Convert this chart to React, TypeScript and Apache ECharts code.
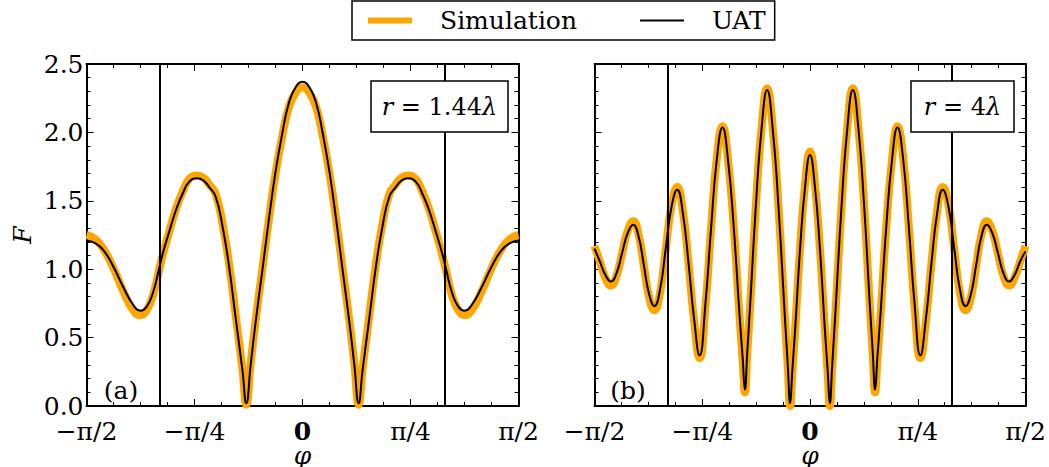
import React, { useEffect, useRef } from "react";
import * as echarts from "echarts";

// phi values are given in units of pi (phi / pi)
const phiA = [-0.5, -0.48, -0.461, -0.438, -0.415, -0.392, -0.375, -0.361, -0.346, -0.333, -0.323, -0.308, -0.292, -0.277, -0.262, -0.244, -0.23, -0.216, -0.201, -0.185, -0.17, -0.155, -0.139, -0.13, -0.12, -0.109, -0.093, -0.078, -0.063, -0.047, -0.032, -0.016, 0, 0.016, 0.032, 0.047, 0.063, 0.078, 0.093, 0.109, 0.12, 0.13, 0.139, 0.155, 0.17, 0.185, 0.201, 0.216, 0.23, 0.244, 0.262, 0.277, 0.292, 0.308, 0.323, 0.333, 0.346, 0.361, 0.375, 0.392, 0.415, 0.438, 0.461, 0.48, 0.5];
const simA = [1.25, 1.22, 1.15, 1.01, 0.84, 0.70, 0.665, 0.70, 0.81, 0.98, 1.11, 1.28, 1.45, 1.57, 1.66, 1.685, 1.67, 1.62, 1.55, 1.33, 1.04, 0.67, 0.27, 0.01, 0.31, 0.61, 1.00, 1.36, 1.69, 1.97, 2.18, 2.29, 2.33, 2.29, 2.18, 1.97, 1.69, 1.36, 1.00, 0.61, 0.31, 0.01, 0.27, 0.67, 1.04, 1.33, 1.55, 1.62, 1.67, 1.685, 1.66, 1.57, 1.45, 1.28, 1.11, 0.98, 0.81, 0.70, 0.665, 0.70, 0.84, 1.01, 1.15, 1.22, 1.25];
const uatA = [1.21, 1.19, 1.14, 1.02, 0.87, 0.74, 0.697, 0.725, 0.83, 0.99, 1.12, 1.28, 1.44, 1.555, 1.64, 1.665, 1.65, 1.60, 1.53, 1.31, 1.02, 0.65, 0.26, 0.02, 0.30, 0.60, 0.99, 1.36, 1.70, 1.99, 2.21, 2.33, 2.37, 2.33, 2.21, 1.99, 1.70, 1.36, 0.99, 0.60, 0.30, 0.02, 0.26, 0.65, 1.02, 1.31, 1.53, 1.60, 1.65, 1.665, 1.64, 1.555, 1.44, 1.28, 1.12, 0.99, 0.83, 0.725, 0.697, 0.74, 0.87, 1.02, 1.14, 1.19, 1.21];

const phiB = [-0.5, -0.488, -0.475, -0.462, -0.449, -0.436, -0.423, -0.41, -0.3978, -0.3855, -0.3733, -0.361, -0.3478, -0.3345, -0.3213, -0.308, -0.295, -0.282, -0.269, -0.256, -0.2428, -0.2295, -0.2163, -0.203, -0.19, -0.177, -0.164, -0.1562, -0.151, -0.1458, -0.1381, -0.1253, -0.1124, -0.0995, -0.0861, -0.0728, -0.0594, -0.0514, -0.046, -0.0414, -0.0345, -0.023, -0.0115, 0, 0.0115, 0.023, 0.0345, 0.0414, 0.046, 0.0514, 0.0594, 0.0728, 0.0861, 0.0995, 0.1124, 0.1253, 0.1381, 0.1458, 0.151, 0.1562, 0.164, 0.177, 0.19, 0.203, 0.2163, 0.2295, 0.2428, 0.256, 0.269, 0.282, 0.295, 0.308, 0.3213, 0.3345, 0.3478, 0.361, 0.3733, 0.3855, 0.3978, 0.41, 0.423, 0.436, 0.449, 0.462, 0.475, 0.488, 0.5];
const simB = [1.17, 1.06, 0.94, 0.88, 0.95, 1.115, 1.28, 1.35, 1.255, 1.025, 0.795, 0.70, 0.83, 1.15, 1.47, 1.60, 1.425, 1.05, 0.625, 0.35, 0.72, 1.30, 1.81, 2.045, 1.79, 1.31, 0.68, 0.33, 0.10, 0.37, 0.77, 1.48, 2.03, 2.32, 2.02, 1.44, 0.70, 0.28, 0.0, 0.22, 0.56, 1.15, 1.62, 1.86, 1.62, 1.15, 0.56, 0.22, 0.0, 0.28, 0.70, 1.44, 2.02, 2.32, 2.03, 1.48, 0.77, 0.37, 0.10, 0.33, 0.68, 1.31, 1.79, 2.045, 1.81, 1.30, 0.72, 0.35, 0.625, 1.05, 1.425, 1.60, 1.47, 1.15, 0.83, 0.70, 0.795, 1.025, 1.255, 1.35, 1.28, 1.115, 0.95, 0.88, 0.94, 1.06, 1.17];
const uatB = [1.15, 1.06, 0.96, 0.91, 0.97, 1.118, 1.264, 1.325, 1.24, 1.03, 0.817, 0.73, 0.854, 1.155, 1.456, 1.58, 1.41, 1.05, 0.64, 0.37, 0.74, 1.30, 1.80, 2.035, 1.79, 1.31, 0.69, 0.35, 0.12, 0.38, 0.78, 1.48, 2.025, 2.31, 2.01, 1.44, 0.71, 0.29, 0.02, 0.24, 0.56, 1.15, 1.60, 1.835, 1.60, 1.15, 0.56, 0.24, 0.02, 0.29, 0.71, 1.44, 2.01, 2.31, 2.025, 1.48, 0.78, 0.38, 0.12, 0.35, 0.69, 1.31, 1.79, 2.035, 1.80, 1.30, 0.74, 0.37, 0.64, 1.05, 1.41, 1.58, 1.456, 1.155, 0.854, 0.73, 0.817, 1.03, 1.24, 1.325, 1.264, 1.118, 0.97, 0.91, 0.96, 1.06, 1.13];

const xTickValues = [-0.5, -0.25, 0, 0.25, 0.5];
const xTickLabels = ["−π/2", "−π/4", "{b|0}", "π/4", "π/2"];
const guideLines = [-0.3333, 0.3333];
const seriesNames = ["Simulation", "UAT"];
const panelTags = ["(a)", "(b)"];
const radiusTexts = ["1.44", "4"];

const FONT = "DejaVu Serif";
const FS = 25;
const ORANGE = "#FFA500";

function makeXAxes(gridIndex: number) {
  const common = {
    type: "value",
    gridIndex,
    min: -0.5,
    max: 0.5,
    interval: 0.25,
    splitLine: { show: false },
    axisLine: { show: true, onZero: false, lineStyle: { color: "#000", width: 2 } },
    axisTick: { show: true, inside: true, length: 7, lineStyle: { color: "#000", width: 1 } },
    minorTick: { show: true, splitNumber: 4, length: 4, lineStyle: { color: "#000", width: 1 } },
  };
  return [
    {
      ...common,
      position: "bottom",
      axisLabel: {
        show: true,
        margin: 16,
        lineHeight: 18,
        color: "#000",
        fontFamily: FONT,
        fontSize: FS,
        formatter: (v: number) => {
          const idx = xTickValues.findIndex((t) => Math.abs(t - v) < 1e-6);
          return idx >= 0 ? xTickLabels[idx] : "";
        },
        rich: { b: { fontFamily: FONT, fontSize: FS, fontWeight: "bold", color: "#000", lineHeight: 18 } },
      },
      name: "φ",
      nameLocation: "middle",
      nameGap: 39,
      nameMoveOverlap: false,
      nameTextStyle: { fontFamily: FONT, fontSize: FS, fontStyle: "italic", color: "#000", lineHeight: 20 },
    },
    { ...common, position: "top", axisLabel: { show: false } },
  ];
}

function makeYAxes(gridIndex: number, labels: boolean) {
  const common = {
    type: "value",
    gridIndex,
    min: 0,
    max: 2.5,
    interval: 0.5,
    splitLine: { show: false },
    axisLine: { show: true, onZero: false, lineStyle: { color: "#000", width: 2 } },
    axisTick: { show: true, inside: true, length: 7, lineStyle: { color: "#000", width: 1 } },
    minorTick: { show: true, splitNumber: 5, length: 4, lineStyle: { color: "#000", width: 1 } },
  };
  const left: any = {
    ...common,
    position: "left",
    axisLabel: {
      show: labels,
      margin: 3,
      lineHeight: 18,
      color: "#000",
      fontFamily: FONT,
      fontSize: FS,
      formatter: (v: number) => v.toFixed(1),
    },
  };
  if (labels) {
    left.name = "F";
    left.nameLocation = "middle";
    left.nameGap = 52;
    left.nameMoveOverlap = false;
    left.nameTextStyle = { fontFamily: FONT, fontSize: FS, fontStyle: "italic", color: "#000" };
  }
  return [left, { ...common, position: "right", axisLabel: { show: false } }];
}

function makeSeries(panel: number, phi: number[], sim: number[], uat: number[]) {
  return [
    {
      name: seriesNames[0],
      type: "line",
      xAxisIndex: panel * 2,
      yAxisIndex: panel * 2,
      data: phi.map((p, i) => [p, sim[i]]),
      showSymbol: false,
      symbol: "none",
      smooth: 0.5,
      lineStyle: { color: ORANGE, width: 8 },
      itemStyle: { color: ORANGE },
      z: 2,
    },
    {
      name: seriesNames[1],
      type: "line",
      xAxisIndex: panel * 2,
      yAxisIndex: panel * 2,
      data: phi.map((p, i) => [p, uat[i]]),
      showSymbol: false,
      symbol: "none",
      smooth: 0.5,
      lineStyle: { color: "#000", width: 2 },
      itemStyle: { color: "#000" },
      z: 3,
      markLine: {
        silent: true,
        symbol: ["none", "none"],
        label: { show: false },
        lineStyle: { color: "#000", width: 2, type: "solid" },
        data: guideLines.map((v) => ({ xAxis: v })),
      },
    },
  ];
}

export default function App() {
  const ref = useRef<HTMLDivElement>(null);
  useEffect(() => {
    document.body.style.margin = "0";
    const chart = echarts.init(ref.current!, undefined, { renderer: "svg" });
    const grids = [
      { left: 86.5, top: 64, width: 432, height: 342, outerBoundsMode: "none", containLabel: false },
      { left: 594.5, top: 64, width: 431, height: 342, outerBoundsMode: "none", containLabel: false },
    ];
    const boxes = [
      { x: 371, y: 81, w: 137, h: 51 },
      { x: 911, y: 81, w: 103, h: 51 },
    ];
    const tags = [
      { x: 121, y: 390 },
      { x: 628, y: 390 },
    ];
    const graphic: any[] = [];
    boxes.forEach((b, i) => {
      graphic.push({
        type: "rect",
        shape: { x: b.x, y: b.y, width: b.w, height: b.h },
        style: { fill: "#fff", stroke: "#000", lineWidth: 1.5 },
        z: 100,
      });
      graphic.push({
        type: "text",
        x: b.x + b.w / 2,
        y: b.y + b.h / 2,
        style: {
          text: `{i|r} = ${radiusTexts[i]}{i|λ}`,
          align: "center",
          verticalAlign: "middle",
          fontFamily: FONT,
          fontSize: 24,
          fill: "#000",
          rich: { i: { fontFamily: FONT, fontSize: 24, fontStyle: "italic", fill: "#000" } },
        },
        z: 101,
      });
    });
    tags.forEach((t, i) => {
      graphic.push({
        type: "text",
        x: t.x,
        y: t.y,
        style: {
          text: panelTags[i],
          align: "center",
          verticalAlign: "middle",
          fontFamily: FONT,
          fontSize: FS,
          fill: "#000",
        },
        z: 101,
      });
    });

    chart.setOption({
      animation: false,
      backgroundColor: "#fff",
      grid: grids,
      xAxis: [...makeXAxes(0), ...makeXAxes(1)],
      yAxis: [...makeYAxes(0, true), ...makeYAxes(1, false)],
      legend: {
        left: 352,
        top: 1,
        orient: "horizontal",
        padding: [7, 9, 7, 16],
        itemGap: 63,
        itemWidth: 44,
        itemHeight: 30,
        borderColor: "#000",
        borderWidth: 1.5,
        borderRadius: 0,
        backgroundColor: "#fff",
        symbolKeepAspect: true,
        textStyle: { fontFamily: FONT, fontSize: FS, color: "#000", padding: [0, 0, 0, 23] },
        data: [
          { name: seriesNames[0], icon: "path://M0,0L44,0L44,6L0,6Z", itemStyle: { color: ORANGE } },
          { name: seriesNames[1], icon: "path://M0,0L40,0L40,1.8L0,1.8Z", itemStyle: { color: "#000" } },
        ],
      },
      graphic,
      series: [...makeSeries(0, phiA, simA, uatA), ...makeSeries(1, phiB, simB, uatB)],
    });
    return () => chart.dispose();
  }, []);
  return <div ref={ref} style={{ width: 1049, height: 467 }} />;
}
